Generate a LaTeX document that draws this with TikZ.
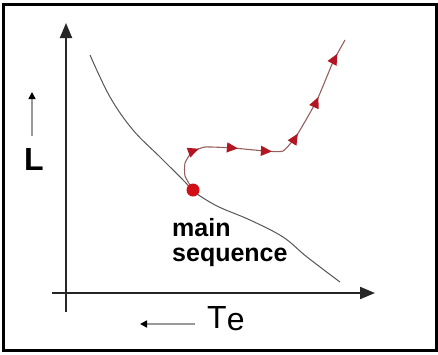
\documentclass[tikz,border=0pt]{standalone}
\usepackage{fontspec}
\setmainfont{Liberation Sans}
\usetikzlibrary{arrows.meta,decorations.markings}
\definecolor{trackred}{RGB}{178,22,34}
\definecolor{dotred}{RGB}{210,14,22}
\definecolor{trackline}{RGB}{150,95,95}
\definecolor{curvegray}{RGB}{85,85,85}

\begin{document}
\begin{tikzpicture}[x=1pt, y=-1pt,
    axis/.style={line width=2pt, draw=black!85, -{Triangle[length=15pt,width=12pt]}},
    hint/.style={line width=1.6pt, draw=black!40, -{Triangle[length=7pt,width=7pt,color=black]}},
    track/.style={line width=1.1pt, draw=trackline, postaction={decorate},
      decoration={markings,
        mark=at position 0.19 with {\arrow[trackred]{Triangle[length=11pt,width=10pt]}},
        mark=at position 0.34 with {\arrow[trackred]{Triangle[length=11pt,width=10pt]}},
        mark=at position 0.47 with {\arrow[trackred]{Triangle[length=11pt,width=10pt]}},
        mark=at position 0.60 with {\arrow[trackred]{Triangle[length=11pt,width=10pt]}},
        mark=at position 0.76 with {\arrow[trackred]{Triangle[length=11pt,width=10pt]}},
        mark=at position 0.94 with {\arrow[trackred]{Triangle[length=11pt,width=10pt]}}}},
    biglabel/.style={inner sep=0pt, anchor=base west, font=\fontsize{32}{32}\selectfont},
    mslabel/.style={inner sep=0pt, anchor=base west, align=left, font=\bfseries\fontsize{25}{25}\selectfont}]
        \useasboundingbox (0,0) rectangle (438,354);

        % Frame
        \draw[line width=3pt] (3.5,4.5) rectangle (436,350);

        % Axes
        \coordinate (ybot) at (66,312);
        \coordinate (ytop) at (66,23);
        \coordinate (xleft) at (52,293);
        \coordinate (xright) at (375,293);
        \draw[axis] (ybot) -- (ytop);
        \draw[axis] (xleft) -- (xright);

        % Axis labels
        \node[biglabel, font=\bfseries\fontsize{32}{32}\selectfont] (lum) at (24,170) {L};
        \coordinate (lumfrom) at (32,136);
        \coordinate (lumto) at (32,92);
        \draw[hint] (lumfrom) -- (lumto);
        \node[biglabel] (temp) at (207,328) {T\raisebox{-2pt}{e}};
        \coordinate (tempfrom) at (195,324);
        \coordinate (tempto) at (140,324);
        \draw[hint] (tempfrom) -- (tempto);

        % Main sequence
        \draw[curvegray, line width=1pt] plot[smooth, tension=0.6] coordinates
            {(90,55) (110,97) (133,130) (160,157) (185,182) (193,191) (217,206)
             (250,220) (283,237) (307,257) (340,282)};
        \node[mslabel] (ms) at (172,261) {main\\sequence};

        % Evolutionary track
        \draw[track] plot[smooth, tension=0.3] coordinates
            {(193,190) (185,176) (185,163) (192,152) (205,147) (233,148) (265,151)
             (283,151) (297,135) (317,100) (333,62) (345,40)};
        \node[circle, fill=dotred, minimum size=13pt, inner sep=0pt] (zams) at (193,190) {};
    \end{tikzpicture}
\end{document}
